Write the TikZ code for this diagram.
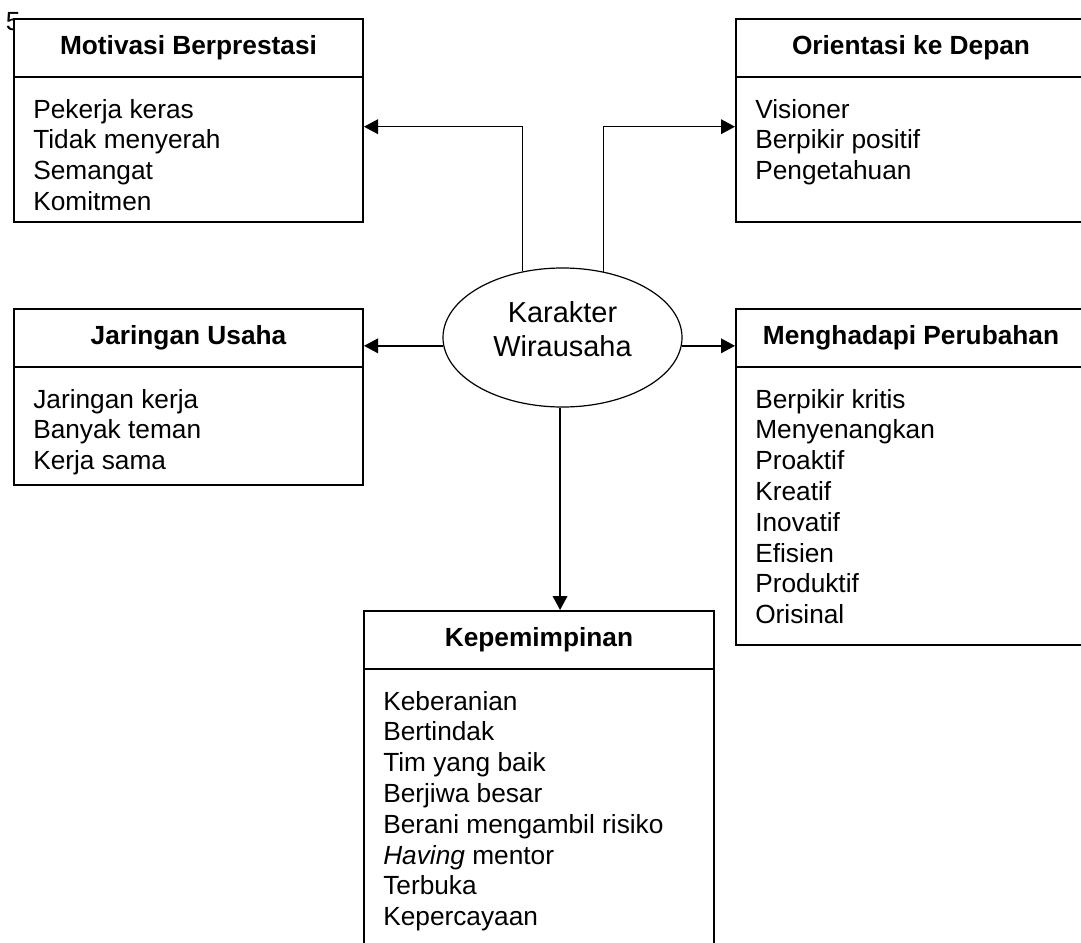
\documentclass[tikz,border=0pt]{standalone}
\usepackage{fontspec}
\setmainfont{Liberation Sans}
\usetikzlibrary{arrows.meta,shapes.geometric,fit}
\begin{document}
\begin{tikzpicture}[x=0.75pt,y=-0.75pt,
  boxline/.style={draw=black,line width=1.5pt,fill=white,inner sep=0pt},
  head/.style={font=\fontsize{19.7}{23}\selectfont\bfseries,anchor=base,inner sep=0pt},
  item/.style={font=\fontsize{19.7}{23}\selectfont,anchor=base west,inner sep=0pt},
  link/.style={draw=black,line width=1pt,-{Triangle[length=10.5pt,width=11pt]}},
  hub/.style={draw=black,line width=0.9pt,ellipse,minimum width=179.25pt,
    minimum height=104.25pt,inner sep=0pt,fill=white}]
\useasboundingbox (0,0) rectangle (1081,942);
\fill[white] (0,0) rectangle (1081,942);
\clip (0,0) rectangle (1081,942);

% page number behind the first box
\node[item] (pg) at (5.5,31) {5};

% Motivasi Berprestasi
\node[boxline,fit={(14,19) (363,77)}] (motH) {};
\node[boxline,fit={(14,77) (363,222)}] (motB) {};
\node[head] (motT) at (188.5,54.5) {Motivasi Berprestasi};
\foreach \t [count=\i from 0] in {Pekerja keras,Tidak menyerah,Semangat,Komitmen}
  \node[item] (mot\i) at (33,118+30.8*\i) {\t};

% Orientasi ke Depan
\node[boxline,fit={(736,19) (1086,77)}] (oriH) {};
\node[boxline,fit={(736,77) (1086,222)}] (oriB) {};
\node[head] (oriT) at (911,54.5) {Orientasi ke Depan};
\foreach \t [count=\i from 0] in {Visioner,Berpikir positif,Pengetahuan}
  \node[item] (ori\i) at (755,118+30.8*\i) {\t};

% Jaringan Usaha
\node[boxline,fit={(14,309) (363,367)}] (jarH) {};
\node[boxline,fit={(14,367) (363,485)}] (jarB) {};
\node[head] (jarT) at (188.5,344.5) {Jaringan Usaha};
\foreach \t [count=\i from 0] in {Jaringan kerja,Banyak teman,Kerja sama}
  \node[item] (jar\i) at (33,408+30.8*\i) {\t};

% Menghadapi Perubahan
\node[boxline,fit={(736,309) (1086,367)}] (menH) {};
\node[boxline,fit={(736,367) (1086,645)}] (menB) {};
\node[head] (menT) at (911,344.5) {Menghadapi Perubahan};
\foreach \t [count=\i from 0] in {Berpikir kritis,Menyenangkan,Proaktif,Kreatif,Inovatif,Efisien,Produktif,Orisinal}
  \node[item] (men\i) at (755,408+30.8*\i) {\t};

% Kepemimpinan
\node[boxline,fit={(364,611) (714,669)}] (kepH) {};
\node[boxline,fit={(364,669) (714,960)}] (kepB) {};
\node[head] (kepT) at (539,646.5) {Kepemimpinan};
\foreach \t [count=\i from 0] in {Keberanian,Bertindak,Tim yang baik,Berjiwa besar,Berani mengambil risiko,\textit{Having} mentor,Terbuka,Kepercayaan}
  \node[item] (kep\i) at (383,710+30.8*\i) {\t};

% central ellipse
\node[hub] (hub) at (562.5,337.5) {};
\node[font=\fontsize{21.7}{25.5}\selectfont,align=center,inner sep=0pt] (hubT) at (562.5,329.5) {Karakter\\Wirausaha};

% connectors
\coordinate (yTop) at (0,126.7);
\draw[link] (hub.121.7) |- (motB.east |- yTop);
\draw[link] (hub.58.3) |- (oriB.west |- yTop);
\draw[link] (hub.184.6) -- (jarH.east |- hub.184.6);
\draw[link] (hub.-4.6) -- (menH.west |- hub.-4.6);
\draw[link] (hub.268) -- (hub.268 |- kepH.north);
\end{tikzpicture}
\end{document}
